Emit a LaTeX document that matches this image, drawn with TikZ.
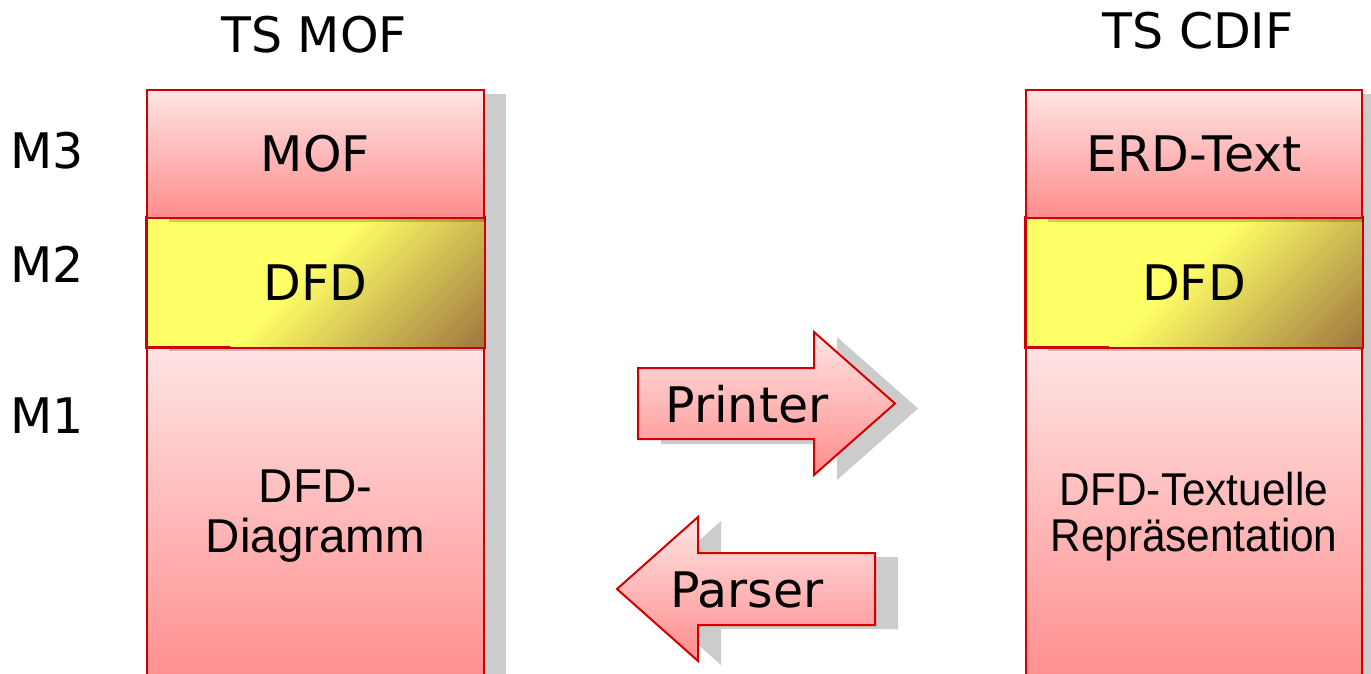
\documentclass[tikz,border=0pt]{standalone}
\usepackage{fontspec}
\usepackage{graphicx}
\newfontfamily\dv{DejaVu Sans}
\newfontfamily\ar{Liberation Sans}
\usetikzlibrary{shadows}
\definecolor{bred}{RGB}{208,0,0}
\definecolor{pinkT}{RGB}{255,228,228}
\definecolor{pinkB}{RGB}{255,140,140}
\definecolor{yel}{RGB}{255,255,102}
\definecolor{brn}{RGB}{160,120,64}
\begin{document}
\begin{tikzpicture}[x=1pt,y=-1pt,
  shd/.style={drop shadow={shadow xshift=22pt, shadow yshift=-4pt, fill=black, opacity=0.2}},
  big/.style={font=\dv\fontsize{49}{58}\selectfont},
  box/.style={draw=bred, line width=2pt, inner sep=0pt, shd, big},
  pinkbox/.style={box, top color=pinkT, bottom color=pinkB},
  yelbox/.style={box, fill=yel},
  border/.style={draw=bred, line width=2pt},
  arr/.style={draw=bred, line width=2pt, top color=pinkT, bottom color=pinkB},
  arrshd/.style={fill=black, opacity=0.2},
  sans/.style={font=\ar\fontsize{47.5}{50}\selectfont, align=center},
]
\path[use as bounding box, clip] (0,0) rectangle (1371,673);

% left column
\node[pinkbox, minimum width=337pt, minimum height=343pt] (m1l) at (315.5,518.5) {};
\node[yelbox, minimum width=337pt, minimum height=129pt] (m2l) at (315.5,282.5) {};
\begin{scope}
  \clip (m2l.north west) rectangle (m2l.south east);
  \foreach \i in {0,...,59} {
    \pgfmathsetmacro\ua{577+\i*254/60}
    \pgfmathsetmacro\ub{\ua+254/60+0.8}
    \pgfmathsetmacro\pc{100-\i*100/59}
    \fill[yel!\pc!brn] (\ua-200,200) -- (\ub-200,200) -- (\ub-360,360) -- (\ua-360,360) -- cycle;
  }
\end{scope}
\draw[border] (m2l.north west) rectangle (m2l.south east);
\node[big] (dfdl) at (m2l.center) {DFD};
\node[pinkbox, minimum width=337pt, minimum height=128pt] (m3l) at (315.5,154) {MOF};
\node[sans] (dfddia) at (315.5,516) {DFD-\\Diagramm};

% right column
\node[pinkbox, minimum width=336pt, minimum height=343pt] (m1r) at (1194,518.5) {};
\node[yelbox, minimum width=336pt, minimum height=129pt] (m2r) at (1194,282.5) {};
\begin{scope}
  \clip (m2r.north west) rectangle (m2r.south east);
  \foreach \i in {0,...,59} {
    \pgfmathsetmacro\ua{577+878.5+\i*254/60}
    \pgfmathsetmacro\ub{\ua+254/60+0.8}
    \pgfmathsetmacro\pc{100-\i*100/59}
    \fill[yel!\pc!brn] (\ua-200,200) -- (\ub-200,200) -- (\ub-360,360) -- (\ua-360,360) -- cycle;
  }
\end{scope}
\draw[border] (m2r.north west) rectangle (m2r.south east);
\node[big] (dfdr) at (m2r.center) {DFD};
\node[pinkbox, minimum width=336pt, minimum height=128pt] (m3r) at (1194,154) {ERD-Text};
\node[sans, font=\ar\fontsize{46}{46}\selectfont] (dfdtext) at (1194,517) {\scalebox{0.92}[1]{DFD-Textuelle}\\\scalebox{0.92}[1]{Repräsentation}};

% titles and level labels
\node[big, anchor=base] (tsmof) at (314,52) {TS MOF};
\node[big, anchor=base] (tscdif) at (1198,48) {TS CDIF};
\node[big, anchor=base] (m3) at (47,168) {M3};
\node[big, anchor=base] (m2) at (47,282) {M2};
\node[big, anchor=base] (m1) at (47,433) {M1};

% Printer arrow
\fill[arrshd, shift={(23,5)}] (638,368) -- (814,368) -- (814,332) -- (895,403.5) -- (814,475) -- (814,439) -- (638,439) -- cycle;
\path[arr] (638,368) -- (814,368) -- (814,332) -- (895,403.5) -- (814,475) -- (814,439) -- (638,439) -- cycle;
\node[big, anchor=base] (printer) at (747,422) {Printer};

% Parser arrow
\fill[arrshd, shift={(23,4)}] (875,553) -- (698,553) -- (698,517) -- (617,589) -- (698,661) -- (698,625) -- (875,625) -- cycle;
\path[arr] (875,553) -- (698,553) -- (698,517) -- (617,589) -- (698,661) -- (698,625) -- (875,625) -- cycle;
\node[big, anchor=base] (parser) at (747,607) {Parser};
\end{tikzpicture}
\end{document}
